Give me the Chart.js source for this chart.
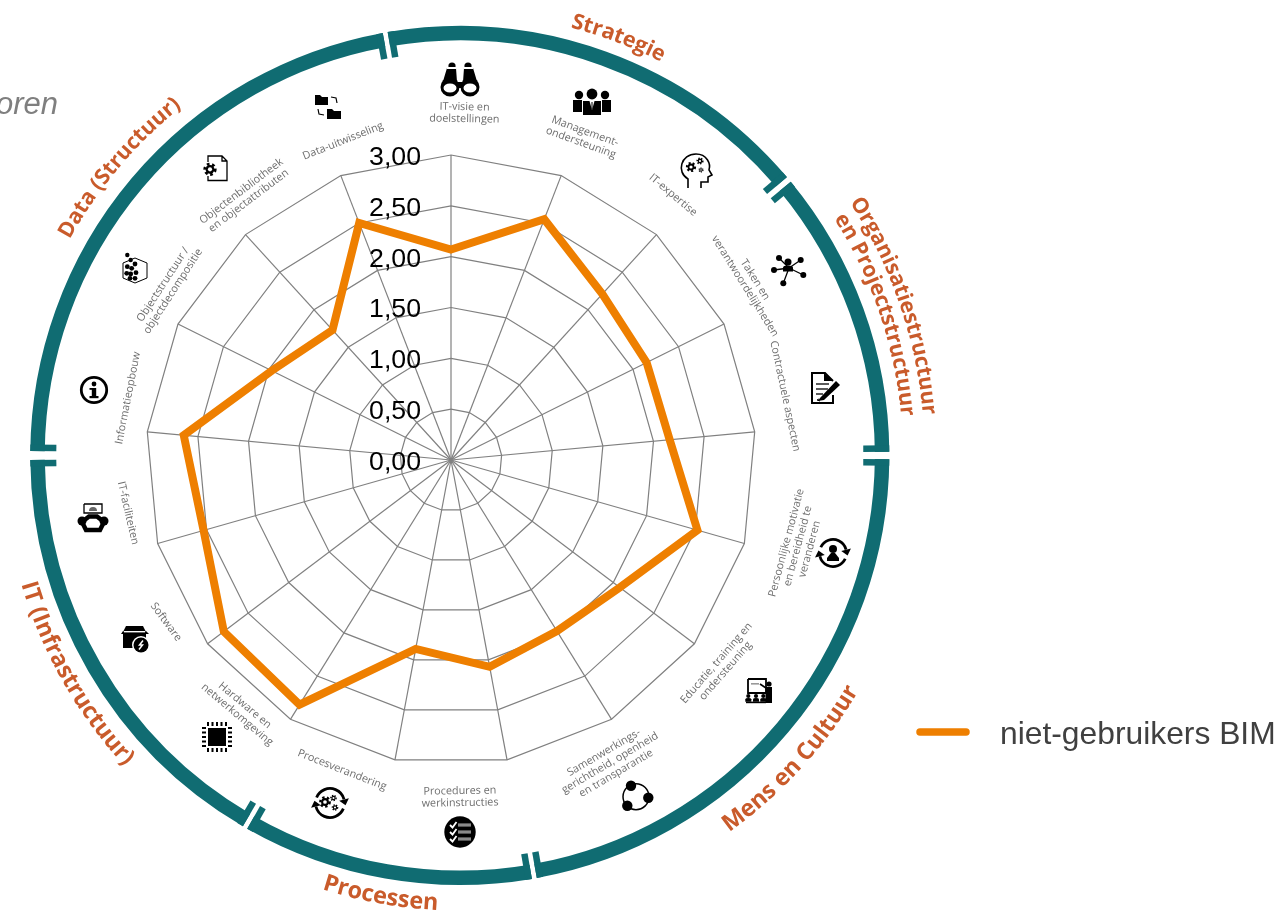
<!DOCTYPE html>
<html>
<head>
<meta charset="utf-8">
<title>Radar niet-gebruikers BIM</title>
<script src="https://cdn.jsdelivr.net/npm/chart.js@4/dist/chart.umd.min.js"></script>
<style>
    html, body { margin: 0; padding: 0; background: #fff; overflow: hidden; }
    #wrap { position: relative; width: 1281px; height: 912px; }
    #radar { position: absolute; left: 0; top: 0; }
    #titles { position: absolute; left: 0; top: 0; pointer-events: none; }
</style>
</head>
<body>
<div id="wrap">
    <canvas id="radar" width="1281" height="912"></canvas>
    <svg id="titles" width="1281" height="912" xmlns="http://www.w3.org/2000/svg"></svg>
</div>
<script>
// Chart data
var categories = [
    ['IT-visie en', 'doelstellingen'],
    ['Management-', 'ondersteuning'],
    ['IT-expertise'],
    ['Taken en', 'verantwoordelijkheden'],
    ['Contractuele aspecten'],
    ['Persoonlijke motivatie', 'en bereidheid te', 'veranderen'],
    ['Educatie, training en', 'ondersteuning'],
    ['Samenwerkings-', 'gerichtheid, openheid', 'en transparantie'],
    ['Procedures en', 'werkinstructies'],
    ['Procesverandering'],
    ['Hardware en', 'netwerkomgeving'],
    ['Software'],
    ['IT-faciliteiten'],
    ['Informatieopbouw'],
    ['Objectstructuur /', 'objectdecompositie'],
    ['Objectenbibliotheek', 'en objectattributen'],
    ['Data-uitwisseling']
];
var seriesName = 'niet-gebruikers BIM';
var seriesValues = [2.07, 2.54, 2.21, 2.15, 2.16, 2.52, 2.08, 1.98, 2.07, 1.89, 2.83, 2.80, 2.53, 2.64, 1.97, 1.73, 2.50];
var tickValues = [0, 0.5, 1, 1.5, 2, 2.5, 3];
var tickLabels = ['0,00', '0,50', '1,00', '1,50', '2,00', '2,50', '3,00'];
var groupTitles = [
    ['Strategie'],
    ['Organisatiestructuur', 'en Projectstructuur'],
    ['Mens en Cultuur'],
    ['Processen'],
    ['IT (Infrastructuur)'],
    ['Data (Structuur)']
];
var cutOffTitle = 'oren';

// Layout of the decoration round the chart (not data)
var ringCenter = { x: 459.8, y: 455.5 };
var ringCuts = [-10, 50, 90, 170, 210, 270, 350];
var ringGaps = [0.33, 0.4, 0.5, 0.33, 0.33, 0.6, 0.33];
// centre angle, baseline radius, clockwise or not, font size, per title line
var titleArcs = [
    [[20.8, 442, true, 21.5]],
    [[71, 465, true, 21.5], [71.3, 443, true, 21.5]],
    [[132.5, 463, false, 23.4]],
    [[190.2, 455, false, 23.4]],
    [[240.4, 457, false, 23.4]],
    [[310.2, 446, true, 21.5]]
];
// x, y, rotation of each category label
var labelSpots = [
    [464.5, 113, 1], [583, 137, 20], [673, 195, 40], [750, 283, 58], [785, 396, 78], [798, 546, -75],
    [721, 667, -49], [610, 763, -30.5], [460, 797, -1], [342, 770, 21.5], [241, 710, 40], [166, 622, 53.5],
    [128, 513, 77], [128, 398, -79], [168, 288, -57], [245, 196, -37], [343, 141, -21.6]
];
var iconSpots = [
    [460, 79], [592, 102], [696, 170], [789, 269], [825, 387], [833, 553], [759, 691], [637, 795], [460, 832],
    [330, 803], [217, 737], [135, 639], [93, 518], [94, 390], [135, 270], [215, 168], [327, 106]
];

var TEAL = '#106C72';
var ORANGE = '#EE7F00';
var GRID = '#808080';

// Small drawing helpers
function dot(c, x, y, r, color) {
    c.fillStyle = color || '#000';
    c.beginPath();
    c.arc(x, y, r, 0, Math.PI * 2);
    c.fill();
}

function box(c, x, y, w, h, color) {
    c.fillStyle = color || '#000';
    c.fillRect(x, y, w, h);
}

function line(c, pts, width, color) {
    c.strokeStyle = color || '#000';
    c.lineWidth = width;
    c.beginPath();
    pts.forEach(function(p, i) {
        if (i === 0) { c.moveTo(p[0], p[1]); } else { c.lineTo(p[0], p[1]); }
    });
    c.stroke();
}

function poly(c, pts, color) {
    c.fillStyle = color || '#000';
    c.beginPath();
    pts.forEach(function(p, i) {
        if (i === 0) { c.moveTo(p[0], p[1]); } else { c.lineTo(p[0], p[1]); }
    });
    c.closePath();
    c.fill();
}

function gear(c, x, y, r) {
    c.save();
    c.strokeStyle = '#000';
    c.lineWidth = r * 0.55;
    c.setLineDash([r * 0.5, r * 0.5]);
    c.beginPath();
    c.arc(x, y, r, 0, Math.PI * 2);
    c.stroke();
    c.restore();
    dot(c, x, y, r * 0.85);
    dot(c, x, y, r * 0.4, '#fff');
}

function turnArrow(c, r, from, to, width) {
    c.strokeStyle = '#000';
    c.lineWidth = width;
    c.beginPath();
    c.arc(0, 0, r, from, to);
    c.stroke();
    var x = r * Math.cos(to), y = r * Math.sin(to);
    var dx = -Math.sin(to), dy = Math.cos(to);
    poly(c, [[x + dy * 5, y - dx * 5], [x - dy * 5, y + dx * 5], [x + dx * 6, y + dy * 6]]);
}

function person(c, x, y, s) {
    dot(c, x, y - s, s * 0.7);
    c.fillStyle = '#000';
    c.beginPath();
    c.moveTo(x - s, y + s * 0.9);
    c.lineTo(x - s, y + s * 0.1);
    c.quadraticCurveTo(x - s, y - s * 0.3, x, y - s * 0.3);
    c.quadraticCurveTo(x + s, y - s * 0.3, x + s, y + s * 0.1);
    c.lineTo(x + s, y + s * 0.9);
    c.closePath();
    c.fill();
}

// One small function per category, same order as categories
var icons = [
    function(c) { // binoculars
        poly(c, [[-13, -11], [-4, -11], [-3, 3], [3, 3], [4, -11], [13, -11], [19, 9], [-19, 9]]);
        dot(c, -10, 8, 9.5); dot(c, 10, 8, 9.5);
        c.fillStyle = '#fff';
        c.beginPath();
        c.ellipse(-10, 9, 6.5, 4.5, 0, 0, Math.PI * 2);
        c.ellipse(10, 9, 6.5, 4.5, 0, 0, Math.PI * 2);
        c.fill();
        dot(c, -8, -13, 3.6); dot(c, 8, -13, 3.6);
        box(c, -13, -12, 9, 2, '#fff'); box(c, 4, -12, 9, 2, '#fff');
    },
    function(c) { // management group
        dot(c, -13, -7, 4.2); dot(c, 13, -7, 4.2);
        poly(c, [[-19, -2], [-8, -2], [-8, 10], [-19, 10]]);
        poly(c, [[8, -2], [19, -2], [19, 10], [8, 10]]);
        box(c, -10, -3, 2, 16, '#fff'); box(c, 8, -3, 2, 16, '#fff');
        dot(c, 0, -8, 5.4);
        poly(c, [[-9, -1], [9, -1], [9, 13], [-9, 13]]);
        poly(c, [[-2.5, -1], [2.5, -1], [0, 8]], '#fff');
        line(c, [[0, 0], [0, 7]], 1);
    },
    function(c) { // head with gears
        c.strokeStyle = '#000';
        c.lineWidth = 1.6;
        c.beginPath();
        c.moveTo(-8, 18);
        c.lineTo(-8, 9);
        c.bezierCurveTo(-20, 2, -15, -16, 0, -16);
        c.bezierCurveTo(11, -16, 15, -6, 13, 0);
        c.lineTo(16, 5);
        c.lineTo(12, 7);
        c.lineTo(12, 12);
        c.lineTo(5, 12);
        c.lineTo(5, 18);
        c.stroke();
        gear(c, -5, -3, 4); gear(c, 4, -9, 2.8); gear(c, 5, 0, 2);
    },
    function(c) { // network
        var ends = [[-10, -11], [11.7, -9], [-15, 1], [14.3, 6], [-5.7, 14.3]];
        ends.forEach(function(p) {
            line(c, [[0, -1], p], 1.3);
            dot(c, p[0], p[1], 3);
        });
        person(c, -1, -2, 5);
    },
    function(c) { // document and pen
        c.strokeStyle = '#000';
        c.lineWidth = 2;
        c.beginPath();
        c.moveTo(8, -6); c.lineTo(0, -14); c.lineTo(-13, -14); c.lineTo(-13, 16); c.lineTo(8, 16); c.lineTo(8, 8);
        c.stroke();
        poly(c, [[-1, -14], [8, -6], [-1, -6]]);
        line(c, [[-9, -3], [4, -3]], 1.3);
        line(c, [[-9, 2], [3, 2]], 1.3);
        line(c, [[-9, 7], [-2, 7]], 1.3);
        line(c, [[-6, 12], [-8, 13], [-5, 14]], 1);
        poly(c, [[-6, 12], [10, -5], [15, -1], [-1, 14]], '#fff');
        poly(c, [[-5, 11], [11, -6], [15, -2], [-1, 13], [-7, 14]]);
    },
    function(c) { // person in turning arrows
        turnArrow(c, 13.5, -2.7, -0.25, 2.8);
        turnArrow(c, 13.5, 0.44, 2.9, 2.8);
        dot(c, 0, -4, 4);
        poly(c, [[-2, 0], [2, 0], [6, 5], [6, 8], [-6, 8], [-6, 5]]);
    },
    function(c) { // teacher at board
        line(c, [[-11, -12], [7, -12], [7, 2], [-11, 2], [-11, -12]], 1.8);
        box(c, -8, -8, 8, 1.6, '#999');
        dot(c, 10, -7, 2.6);
        box(c, 6.5, -4, 6.5, 16);
        line(c, [[7, -3], [1, -7]], 1.6);
        person(c, -10.7, 8, 3); person(c, -3, 8, 3); person(c, 4.3, 8, 3);
        box(c, -13, 10.6, 20, 1.6);
    },
    function(c) { // three partners
        c.strokeStyle = '#000';
        c.lineWidth = 1.5;
        c.beginPath();
        c.arc(-1, 1.7, 13, 0, Math.PI * 2);
        c.stroke();
        dot(c, -6, -9.3, 5.2); dot(c, 11.3, 2.7, 5.2); dot(c, -9.7, 10.7, 5.2);
    },
    function(c) { // checklist
        dot(c, 0, 0, 15.7);
        [-7, 0, 7].forEach(function(y) {
            line(c, [[-10, y], [-7.5, y + 2.5], [-3.5, y - 3]], 1.8, '#fff');
            box(c, -2, y - 1.6, 13, 3.2, '#8a8a8a');
        });
    },
    function(c) { // cycle with gears
        turnArrow(c, 14.5, -2.75, -0.25, 2.8);
        turnArrow(c, 14.5, 0.4, 2.9, 2.8);
        gear(c, -5, -1, 4.6); gear(c, 3.5, -5, 2.6); gear(c, 5, 4.5, 2.6);
    },
    function(c) { // chip
        box(c, -9, -9, 18, 18);
        [-9, -4.5, 0, 4.5, 9].forEach(function(p) {
            box(c, p - 1, -15, 2, 4); box(c, p - 1, 11, 2, 4);
            box(c, -15, p - 1, 4, 2); box(c, 11, p - 1, 4, 2);
        });
    },
    function(c) { // package with badge
        poly(c, [[-12, -7], [-9, -13], [8, -13], [11, -7], [11, 9], [-12, 9]]);
        poly(c, [[-12, -8], [-14, -5], [-12, -5]]);
        poly(c, [[11, -8], [14, -5], [11, -5]]);
        box(c, -11, -8, 21, 1.4, '#fff');
        dot(c, 6, 6, 9, '#fff');
        dot(c, 6, 6, 7.5);
        line(c, [[8, 1.5], [4.5, 6], [7.5, 6], [4, 10.5]], 1.5, '#fff');
    },
    function(c) { // workplace
        line(c, [[-9, -14], [9, -14], [9, -5], [-9, -5], [-9, -14]], 1.3);
        c.fillStyle = '#666';
        c.beginPath();
        c.arc(0, -7, 4, Math.PI, 0);
        c.fill();
        c.strokeStyle = '#000';
        c.lineWidth = 4.5;
        c.beginPath();
        c.moveTo(-11, 4);
        c.lineTo(-4, -1.5);
        c.lineTo(4, -1.5);
        c.lineTo(11, 4);
        c.lineTo(7, 12);
        c.lineTo(-7, 12);
        c.closePath();
        c.stroke();
        dot(c, -11, 3, 4.5); dot(c, 11, 3, 4.5);
    },
    function(c) { // info
        c.strokeStyle = '#000';
        c.lineWidth = 2.8;
        c.beginPath();
        c.arc(0, 0, 12.7, 0, Math.PI * 2);
        c.stroke();
        dot(c, 0, -6, 2.4);
        box(c, -2.2, -2, 4.4, 9);
        box(c, -4.5, 6, 9, 2.2);
        box(c, -4.5, -2, 3, 1.8);
    },
    function(c) { // cube with blocks
        line(c, [[-12, -7], [0, -12], [12, -7], [12, 8], [0, 13], [-12, 8], [-12, -7]], 1);
        var blocks = [[-7.7, -15, 2.2], [-4.3, -10, 2.2], [0, -6, 2.4], [-7.7, -3.3, 2.4], [-3.3, -1.7, 2.4], [-8.3, 3.3, 2.4], [-4.3, 4, 2.4], [1, 2.7, 2.4], [0, 8.3, 2.4], [-5, 8.3, 2.4]];
        blocks.forEach(function(b) { dot(c, b[0], b[1], b[2]); });
    },
    function(c) { // document with gear
        c.strokeStyle = '#000';
        c.lineWidth = 1.3;
        c.beginPath();
        c.moveTo(-7, -6); c.lineTo(-7, -12); c.lineTo(7, -12); c.lineTo(12, -7); c.lineTo(12, 12.5); c.lineTo(-7, 12.5); c.lineTo(-7, 8);
        c.moveTo(7, -12); c.lineTo(7, -7); c.lineTo(12, -7);
        c.stroke();
        gear(c, -5, 1.3, 5.2);
    },
    function(c) { // folders with arrows
        poly(c, [[-12, -11], [-7, -11], [-5, -9], [1, -9], [1, -1], [-12, -1]]);
        poly(c, [[0, 3], [5, 3], [7, 5], [14, 5], [14, 13], [0, 13]]);
        line(c, [[4, -9], [9, -8], [10, -3]], 1.2);
        line(c, [[-9, 3], [-8, 8], [-3, 9]], 1.2);
    }
];

// Plugin: teal ring, icons and rotated category labels behind the chart
var surroundPlugin = {
    id: 'surround',
    beforeDraw: function(chart) {
        var c = chart.ctx;
        c.save();
        c.translate(ringCenter.x, ringCenter.y);
        for (var i = 0; i < ringCuts.length - 1; i++) {
            var a0 = ringCuts[i] + ringGaps[i], a1 = ringCuts[i + 1] - ringGaps[i + 1];
            c.strokeStyle = TEAL;
            c.lineWidth = 14.5;
            c.beginPath();
            c.arc(0, 0, 422.3, (a0 - 90) * Math.PI / 180, (a1 - 90) * Math.PI / 180);
            c.stroke();
            c.save();
            c.rotate(a0 * Math.PI / 180);
            box(c, 0, -429.5, 6.5, 26, TEAL);
            c.restore();
            c.save();
            c.rotate(a1 * Math.PI / 180);
            box(c, -6.5, -429.5, 6.5, 26, TEAL);
            c.restore();
        }
        c.restore();

        iconSpots.forEach(function(spot, i) {
            c.save();
            c.translate(spot[0], spot[1]);
            icons[i](c);
            c.restore();
        });

        c.fillStyle = '#6E6E6E';
        c.font = '10.8px "Open Sans"';
        c.textAlign = 'center';
        c.textBaseline = 'middle';
        categories.forEach(function(lines, i) {
            var spot = labelSpots[i];
            c.save();
            c.translate(spot[0], spot[1]);
            c.rotate(spot[2] * Math.PI / 180);
            lines.forEach(function(text, n) {
                c.fillText(text, 0, (n - (lines.length - 1) / 2) * 12);
            });
            c.restore();
        });

        c.fillStyle = '#7F7F7F';
        c.font = 'italic 31px "Liberation Sans"';
        c.textAlign = 'left';
        c.fillText(cutOffTitle, -4, 105);
    },
    // tick labels sit left of the vertical axis
    beforeDatasetsDraw: function(chart) {
        var c = chart.ctx;
        var scale = chart.scales.r;
        c.save();
        c.fillStyle = '#000';
        c.font = '26.7px "Liberation Sans"';
        c.textAlign = 'right';
        c.textBaseline = 'middle';
        tickValues.forEach(function(v, i) {
            var pos = scale.getPointPositionForValue(0, v);
            c.fillText(tickLabels[i], pos.x - 30, pos.y + 2.5);
        });
        c.restore();
    },
    afterDraw: function(chart) {
        var c = chart.ctx;
        c.save();
        c.strokeStyle = ORANGE;
        c.lineWidth = 7.5;
        c.lineCap = 'round';
        c.beginPath();
        c.moveTo(920, 732);
        c.lineTo(966, 732);
        c.stroke();
        c.fillStyle = '#404040';
        c.font = '31.8px "Liberation Sans"';
        c.textAlign = 'left';
        c.textBaseline = 'middle';
        c.fillText(seriesName, 1000, 735);
        c.restore();
    }
};

new Chart(document.getElementById('radar'), {
    type: 'radar',
    data: {
        labels: categories,
        datasets: [{
            label: seriesName,
            data: seriesValues,
            borderColor: ORANGE,
            backgroundColor: 'transparent',
            borderWidth: 8,
            borderJoinStyle: 'miter',
            pointRadius: 0,
            fill: false,
            tension: 0
        }]
    },
    options: {
        responsive: false,
        animation: false,
        devicePixelRatio: 1,
        layout: { padding: { left: 146, right: 525, top: 155, bottom: 147 } },
        plugins: { legend: { display: false }, tooltip: { enabled: false } },
        scales: {
            r: {
                min: 0,
                max: 3,
                ticks: { display: false, stepSize: 0.5 },
                pointLabels: { display: false },
                grid: { color: GRID, lineWidth: 1.2 },
                angleLines: { color: GRID, lineWidth: 1.2 }
            }
        }
    },
    plugins: [surroundPlugin]
});

// Curved group titles as svg text on arcs
var svg = document.getElementById('titles');
var NS = 'http://www.w3.org/2000/svg';

function arcPoint(angle, r) {
    var rad = angle * Math.PI / 180;
    return (ringCenter.x + r * Math.sin(rad)).toFixed(1) + ' ' + (ringCenter.y - r * Math.cos(rad)).toFixed(1);
}

groupTitles.forEach(function(lines, i) {
    lines.forEach(function(text, n) {
        var arc = titleArcs[i][n];
        var spread = arc[2] ? 70 : -70;
        var id = 'arc' + i + '_' + n;
        var path = document.createElementNS(NS, 'path');
        path.setAttribute('id', id);
        path.setAttribute('fill', 'none');
        path.setAttribute('d', 'M ' + arcPoint(arc[0] - spread, arc[1]) + ' A ' + arc[1] + ' ' + arc[1] + ' 0 0 ' + (arc[2] ? 1 : 0) + ' ' + arcPoint(arc[0] + spread, arc[1]));
        svg.appendChild(path);
        var label = document.createElementNS(NS, 'text');
        label.setAttribute('font-family', 'Open Sans');
        label.setAttribute('font-weight', '700');
        label.setAttribute('font-size', arc[3]);
        label.setAttribute('fill', '#C95B2B');
        label.setAttribute('text-anchor', 'middle');
        var onPath = document.createElementNS(NS, 'textPath');
        onPath.setAttribute('href', '#' + id);
        onPath.setAttribute('startOffset', '50%');
        onPath.textContent = text;
        label.appendChild(onPath);
        svg.appendChild(label);
    });
});
</script>
</body>
</html>
